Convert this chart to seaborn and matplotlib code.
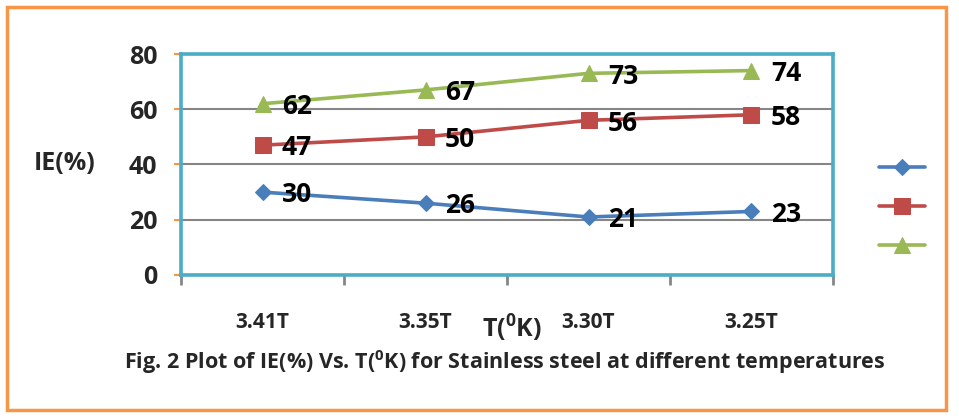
import matplotlib
matplotlib.use("Agg")
import matplotlib.pyplot as plt
import matplotlib.patches as mpatches
import numpy as np
import pandas as pd
import seaborn as sns

# data
temps = ["3.41T", "3.35T", "3.30T", "3.25T"]
series_names = ["s1", "s2", "s3"]
ie_s1 = [30, 26, 21, 23]
ie_s2 = [47, 50, 56, 58]
ie_s3 = [62, 67, 73, 74]

colors = {"s1": "#4A7EBB", "s2": "#BE4B48", "s3": "#98B954"}
markers = {"s1": "D", "s2": "s", "s3": "^"}
msizes = {"s1": 8, "s2": 11, "s3": 11}

df = pd.DataFrame({
    "temp": temps * 3,
    "ie": ie_s1 + ie_s2 + ie_s3,
    "series": [s for s in series_names for _ in temps],
})

sns.set_style("white")
plt.rcParams["font.family"] = ["Open Sans", "DejaVu Sans"]
plt.rcParams["font.weight"] = "bold"
plt.rcParams["mathtext.fontset"] = "custom"
plt.rcParams["mathtext.rm"] = "Open Sans:bold"
plt.rcParams["mathtext.bf"] = "Open Sans:bold"
plt.rcParams["mathtext.it"] = "Open Sans:bold"

fig = plt.figure(figsize=(9.59, 4.18), dpi=100)
ax = fig.add_axes([181 / 959, 1 - 275 / 418, (833 - 181) / 959, (275 - 54) / 418])

for name in series_names:
    sub = df[df["series"] == name]
    sns.lineplot(data=sub, x="temp", y="ie", ax=ax, color=colors[name],
                 marker=markers[name], markersize=msizes[name],
                 markeredgecolor=colors[name], linewidth=2.6, label=name,
                 sort=False)

# value labels
for name, vals in zip(series_names, [ie_s1, ie_s2, ie_s3]):
    for i, v in enumerate(vals):
        ax.annotate(str(v), (i, v), xytext=(14, -2), textcoords="offset points",
                    ha="left", va="center", fontsize=19, fontweight="bold",
                    color="black")

ax.set_xlim(-0.5, 3.5)
ax.set_ylim(0, 80)
ax.set_yticks([0, 20, 40, 60, 80])
ax.set_xticks([-0.5, 0.5, 1.5, 2.5, 3.5], minor=False)
ax.set_xticklabels([])
ax.set_xticks(range(4), minor=True)
ax.set_xticklabels(temps, minor=True)
ax.tick_params(axis="x", which="major", length=7, width=2, color="#868686",
               direction="out", bottom=True)
ax.tick_params(axis="x", which="minor", length=0, pad=27, labelsize=15)
ax.tick_params(axis="y", length=5, width=1.5, color="#F79646", direction="out",
               left=True, labelsize=18, pad=12)
for lbl in ax.get_xticklabels(minor=True) + ax.get_yticklabels():
    lbl.set_fontweight("bold")

ax.yaxis.grid(True, color="#868686", linewidth=1.5)
ax.set_axisbelow(True)
for sp in ax.spines.values():
    sp.set_color("#4BACC6")
    sp.set_linewidth(2.6)
    sp.set_visible(True)

ax.set_xlabel("")
ax.set_ylabel("")
fig.text(65 / 959, 1 - 163 / 418, "IE(%)", fontsize=18, fontweight="bold",
         ha="center", va="center")
fig.text(512 / 959, 1 - 328 / 418, r"T($^{0}$K)", fontsize=18,
         fontweight="bold", ha="center", va="center")
fig.text(505 / 959, 1 - 362 / 418,
         r"Fig. 2 Plot of IE(%) Vs. T($^{0}$K) for Stainless steel at different temperatures",
         fontsize=15.5, fontweight="bold", ha="center", va="center")

# legend with markers only
handles = list(ax.get_lines()[:3])
if ax.get_legend() is not None:
    ax.get_legend().remove()
fig.legend(handles, ["", "", ""], loc="center", frameon=False,
           bbox_to_anchor=(902 / 959, 1 - 207 / 418), handlelength=3.3,
           handletextpad=0, labelspacing=1.8, borderpad=0, fontsize=10)

# orange outer frame
fig.patches.append(mpatches.Rectangle((7 / 959, 8 / 418), 939 / 959, 403 / 418,
                                      transform=fig.transFigure, fill=False,
                                      edgecolor="#F79646", linewidth=2.5))

fig.savefig("out.png", dpi=100)
